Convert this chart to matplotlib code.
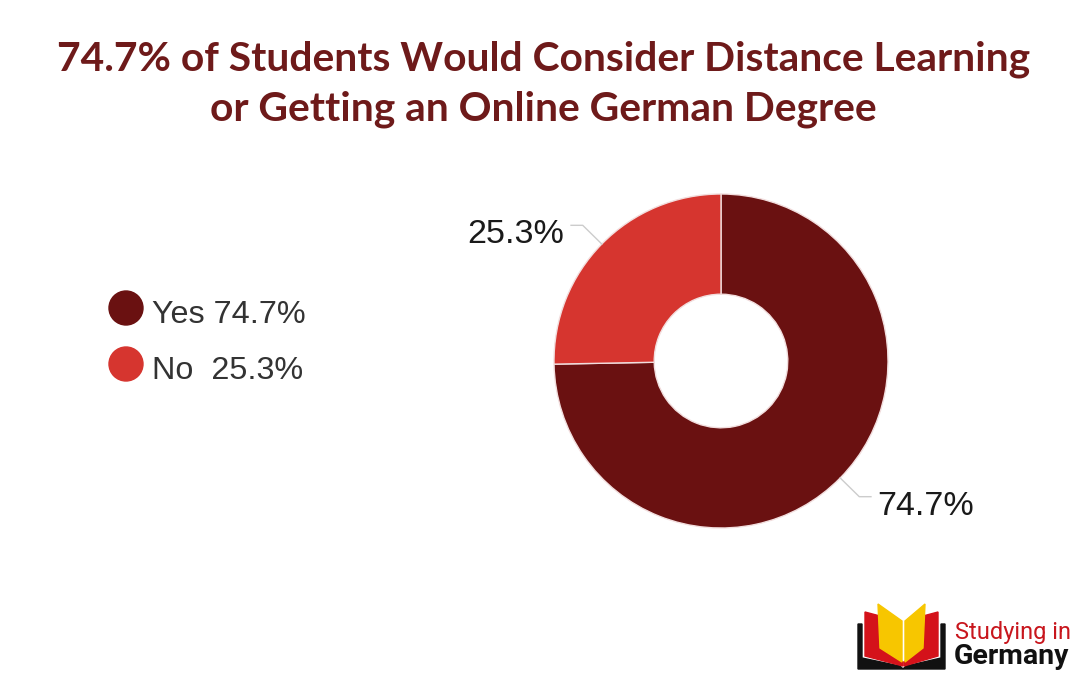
import matplotlib
matplotlib.use("Agg")
import matplotlib.pyplot as plt
from matplotlib.patches import Circle, Polygon
import numpy as np

# ---- data ----
categories = ["Yes", "No"]
values = [74.7, 25.3]
colors = ["#6a1111", "#d6352f"]
title_lines = ["74.7% of Students Would Consider Distance Learning",
               "or Getting an Online German Degree"]

W, H = 1092, 682
fig = plt.figure(figsize=(W / 100, H / 100), dpi=100)
fig.patch.set_facecolor("white")

# overlay axes in pixel coordinates
ov = fig.add_axes([0, 0, 1, 1])
ov.set_xlim(0, W)
ov.set_ylim(H, 0)
ov.axis("off")

# ---- title ----
title_color = "#6e1a1a"
ov.text(544, 70, title_lines[0], ha="center", va="baseline", fontsize=29.3,
        fontweight="bold", family="Lato", color=title_color)
ov.text(543, 120, title_lines[1], ha="center", va="baseline", fontsize=29.3,
        fontweight="bold", family="Lato", color=title_color)

# ---- donut ----
cx, cy, R = 721, 361, 167
pax = fig.add_axes([(cx - R) / W, (H - cy - R) / H, 2 * R / W, 2 * R / H])
wedges, _ = pax.pie(values, colors=colors, startangle=90, counterclock=False,
                    radius=1.0, wedgeprops=dict(width=0.6, edgecolor="#f2dede",
                                                linewidth=1.0))
pax.set_xlim(-1, 1)
pax.set_ylim(-1, 1)
pax.set_aspect("equal")
pax.axis("off")

# leader lines and labels
for w, v in zip(wedges, values):
    ang = np.deg2rad((w.theta1 + w.theta2) / 2)
    x0, y0 = np.cos(ang), np.sin(ang)
    x1, y1 = 1.16 * x0, 1.16 * y0
    sgn = 1 if x0 >= 0 else -1
    x2 = x1 + sgn * 0.07
    pax.plot([x0, x1, x2], [y0, y1, y1], color="#cccccc", lw=1.0, clip_on=False)
    pax.text(x2 + sgn * 0.04, y1 - 0.108, f"{v}%", ha="left" if sgn > 0 else "right",
             va="baseline", fontsize=24.5, family="Liberation Sans", color="#1a1a1a")

# ---- legend ----
leg_y = [308, 364]
leg_labels = [f"{categories[0]} {values[0]}%", f"{categories[1]}  {values[1]}%"]
for yy, col, lab in zip(leg_y, colors, leg_labels):
    ov.add_patch(Circle((126, yy), 17, color=col, zorder=3))
    ov.text(152, yy + 15, lab, ha="left", va="baseline", fontsize=23.3,
            family="Liberation Sans", color="#333333")

# ---- logo ----
black = "#111111"
red = "#d4121a"
yellow = "#f7c600"
ov.add_patch(Polygon([(858, 624), (862, 624), (862, 658), (900, 666), (903, 669), (858, 669)],
                     closed=True, color=black, zorder=2))
ov.add_patch(Polygon([(945, 624), (941, 624), (941, 658), (906, 666), (903, 669), (945, 669)],
                     closed=True, color=black, zorder=2))
ov.add_patch(Polygon([(865, 612), (880, 616), (881, 648), (903, 662), (903, 666), (865, 656)],
                     closed=True, color=red, zorder=3))
ov.add_patch(Polygon([(938, 612), (923, 616), (922, 648), (904, 662), (904, 666), (938, 656)],
                     closed=True, color=red, zorder=3))
ov.add_patch(Polygon([(878, 604), (902, 621), (902, 662), (880, 648)],
                     closed=True, color=yellow, zorder=4))
ov.add_patch(Polygon([(925, 604), (905, 621), (905, 662), (923, 648)],
                     closed=True, color=yellow, zorder=4))
ov.text(955, 639, "Studying in", ha="left", va="baseline", fontsize=17,
        family="Roboto", color="#c8161d")
ov.text(954, 664, "Germany", ha="left", va="baseline", fontsize=20.5,
        fontweight="bold", family="Roboto", color=black)

fig.savefig("out.png", dpi=100, facecolor="white")
